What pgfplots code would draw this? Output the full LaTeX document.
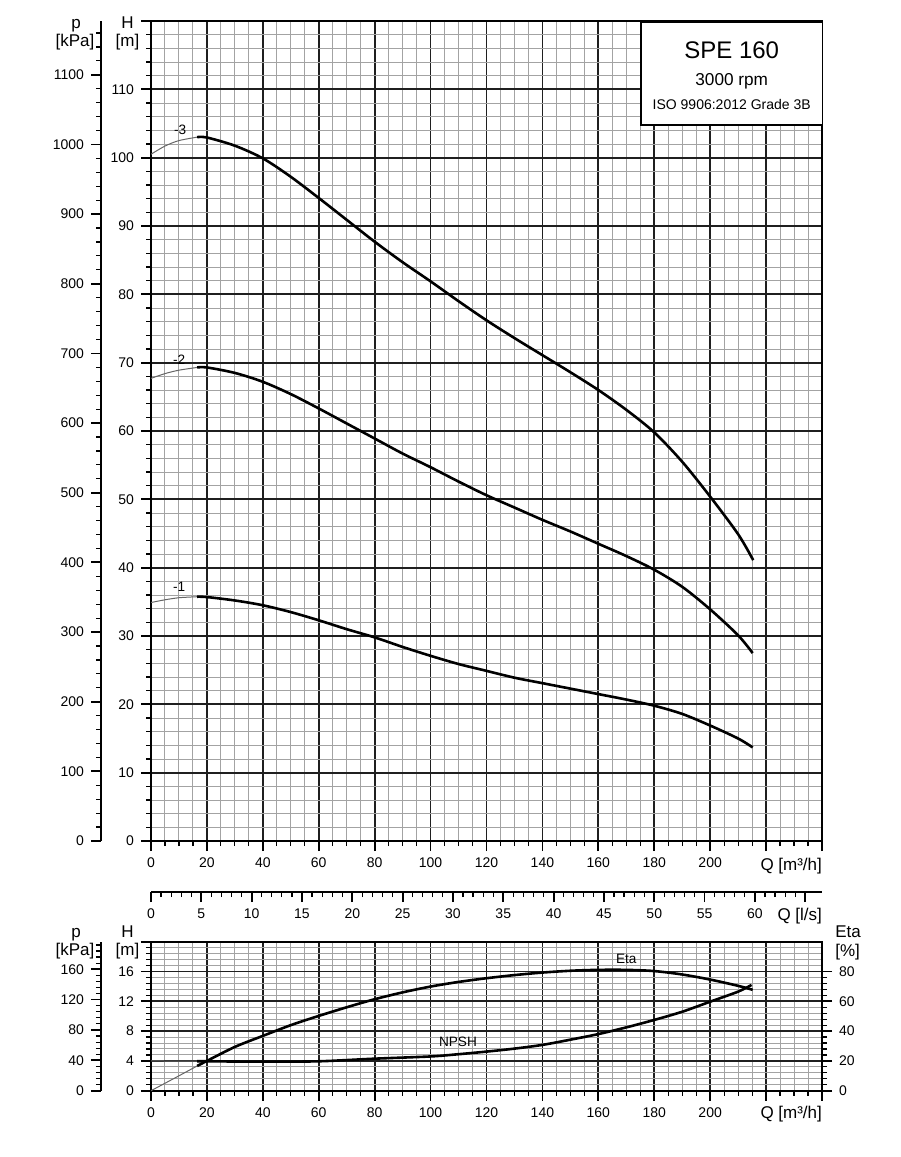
\documentclass[border=0pt]{standalone}
\usepackage{fontspec}
\setmainfont{Liberation Sans}
\usepackage{pgfplots}
\pgfplotsset{compat=1.18}

\definecolor{gridmajor}{gray}{0.12}
\definecolor{gridminor}{gray}{0.64}
\definecolor{startup}{gray}{0.4}

\newcommand{\ticksize}{\fontsize{7}{8}\selectfont}
\newcommand{\labsize}{\fontsize{8.5}{10}\selectfont}
\newcommand{\curvesize}{\fontsize{6.8}{8}\selectfont}

\pgfplotsset{
  pumpaxis/.style={
    scale only axis,
    anchor=south west,
    width=335.5pt,
    axis line style={line width=0.9pt},
    tick align=outside,
    major tick length=5pt,
    minor tick length=2.5pt,
    major tick style={line width=0.9pt, black},
    minor tick style={line width=0.6pt, black},
    tick label style={font=\ticksize},
    /pgf/number format/assume math mode=true,
    /pgf/number format/1000 sep={},
  },
  curvegrid/.style={
    grid=both,
    major grid style={gridmajor, line width=0.85pt},
    minor grid style={gridminor, line width=0.5pt},
    xmin=0, xmax=240,
    xtick={0,20,...,240},
    xticklabels={0,20,40,60,80,100,120,140,160,180,200,,},
    minor x tick num=3,
    xtick pos=left, ytick pos=left,
  },
  scaleaxis/.style={
    hide x axis,
    axis y line*=left,
    ytick align=outside,
    xmin=0, xmax=1,
  },
  dutyline/.style={black, line width=1.3pt, smooth},
  startline/.style={startup, line width=0.5pt, smooth},
}

\begin{document}
\begin{tikzpicture}
\path[use as bounding box] (0,0) rectangle (450pt,-578.5pt);

% ---------- head curves ----------
\begin{axis}[pumpaxis, curvegrid,
  at={(75.5pt,-420.5pt)}, height=410pt,
  ymin=0, ymax=120,
  ytick={0,10,...,120},
  yticklabels={0,10,20,30,40,50,60,70,80,90,100,110,},
  minor y tick num=4,
]
% 3 stages
\addplot[startline] coordinates {(0,100.5) (5,101.7) (10,102.5) (16.5,103.0)};
\addplot[dutyline] coordinates {(16.5,103.0) (20,102.95) (30,101.75) (40,99.9) (50,97.2)
  (60,94.1) (70,90.9) (80,87.7) (90,84.7) (100,81.9) (110,79.0) (120,76.2) (130,73.6)
  (140,71.1) (150,68.6) (160,66.0) (170,63.1) (180,59.8) (190,55.5) (200,50.4)
  (210,44.9) (215.4,41.1)};
% 2 stages
\addplot[startline] coordinates {(0,67.7) (5,68.4) (10,68.9) (16.5,69.3)};
\addplot[dutyline] coordinates {(16.5,69.3) (20,69.3) (30,68.5) (40,67.2) (50,65.4)
  (60,63.3) (70,61.1) (80,58.9) (90,56.7) (100,54.7) (110,52.6) (120,50.6) (130,48.8)
  (140,47.0) (150,45.3) (160,43.5) (170,41.7) (180,39.7) (190,37.2) (200,33.9)
  (210,30.1) (215.2,27.5)};
% 1 stage
\addplot[startline] coordinates {(0,34.9) (5,35.3) (10,35.6) (16.5,35.75)};
\addplot[dutyline] coordinates {(16.5,35.75) (20,35.7) (30,35.2) (40,34.5) (50,33.5)
  (60,32.3) (70,31.0) (80,29.8) (90,28.4) (100,27.1) (110,25.9) (120,24.9) (130,23.9)
  (140,23.1) (150,22.3) (160,21.5) (170,20.7) (180,19.8) (190,18.6) (200,16.9)
  (210,15.0) (215.2,13.7)};
\node[font=\curvesize] at (axis cs:10.4,104.1) {-3};
\node[font=\curvesize] at (axis cs:10.1,70.5) {-2};
\node[font=\curvesize] at (axis cs:10.1,37.2) {-1};
\end{axis}

% pressure scale, upper chart
\begin{axis}[pumpaxis, scaleaxis,
  at={(50.5pt,-420.5pt)}, height=410pt,
  ymin=0, ymax=1177.2,
  ytick={0,100,...,1100},
  minor ytick={20,40,...,1160},
]
\end{axis}

% flow in l/s
\begin{axis}[pumpaxis,
  at={(75.5pt,-446pt)}, height=1pt,
  hide y axis, axis x line*=bottom, xtick align=outside,
  xmin=0, xmax=66.6667, ymin=0, ymax=1,
  xtick={0,5,...,65},
  xticklabels={0,5,10,15,20,25,30,35,40,45,50,55,60,},
  minor x tick num=4,
]
\end{axis}

% ---------- NPSH / efficiency ----------
\begin{axis}[pumpaxis, curvegrid,
  at={(75.5pt,-545.35pt)}, height=74.5pt,
  ymin=0, ymax=20,
  ytick={0,4,...,20},
  yticklabels={0,4,8,12,16,},
  minor y tick num=4,
]
\addplot[startline] coordinates {(0,4.0) (8,3.98) (16.5,3.96)};
\addplot[dutyline] coordinates {(16.5,3.96) (20,3.95) (40,3.9) (60,3.95) (80,4.3) (100,4.6)
  (110,4.9) (120,5.25) (130,5.65) (140,6.15) (150,6.85) (160,7.6) (170,8.5) (180,9.5)
  (190,10.6) (200,11.95) (210,13.3) (214.8,14.2)};
\node[font=\curvesize] at (axis cs:109.8,6.55) {NPSH};
\end{axis}

% pressure scale, lower chart
\begin{axis}[pumpaxis, scaleaxis,
  at={(50.5pt,-545.35pt)}, height=74.5pt,
  ymin=0, ymax=196.2,
  ytick={0,40,...,160},
  minor ytick={8,16,...,192},
]
\end{axis}

% efficiency scale
\begin{axis}[pumpaxis,
  at={(75.5pt,-545.35pt)}, height=74.5pt,
  hide x axis, axis y line*=right, ytick align=outside,
  xmin=0, xmax=240, ymin=0, ymax=100,
  ytick={0,20,...,80},
  minor ytick={4,8,...,76},
]
\addplot[startline] coordinates {(0,0) (8,8) (16.5,16.6)};
\addplot[dutyline] coordinates {(16.5,16.6) (20,20) (30,29.4) (40,36.8) (50,44) (60,50.2)
  (70,56) (80,61.4) (90,66) (100,69.9) (110,73) (120,75.5) (130,77.6) (140,79.3)
  (150,80.5) (160,81.1) (170,81.1) (180,80.3) (190,78.0) (200,74.6) (210,70.4)
  (215.2,67.7)};
\node[font=\curvesize] at (axis cs:170,88.3) {Eta};
\end{axis}

% ---------- captions ----------
\draw[fill=white, line width=0.8pt] (320.35pt,-10.85pt) rectangle (411.15pt,-62.5pt);
\node[font=\fontsize{12}{14}\selectfont] at (365.85pt,-25pt) {SPE 160};
\node[font=\fontsize{8.6}{10}\selectfont] at (365.85pt,-40.85pt) {3000 rpm};
\node[font=\fontsize{7}{8}\selectfont] at (365.85pt,-52.15pt) {ISO 9906:2012 Grade 3B};

\node[font=\labsize, anchor=base] at (38pt,-14.15pt) {p};
\node[font=\labsize, anchor=base] at (37.5pt,-23pt) {[kPa]};
\node[font=\labsize, anchor=base] at (63.75pt,-14.15pt) {H};
\node[font=\labsize, anchor=base] at (63.75pt,-23pt) {[m]};

\node[font=\labsize, anchor=base] at (38pt,-468.5pt) {p};
\node[font=\labsize, anchor=base] at (37.5pt,-477.75pt) {[kPa]};
\node[font=\labsize, anchor=base] at (63.75pt,-468.5pt) {H};
\node[font=\labsize, anchor=base] at (63.75pt,-477.75pt) {[m]};

\node[font=\labsize, anchor=base west, inner sep=0pt] at (417.5pt,-468.65pt) {Eta};
\node[font=\labsize, anchor=base west, inner sep=0pt] at (417.5pt,-478pt) {[\%]};

\node[font=\labsize, anchor=base east, inner sep=0pt] at (411.15pt,-435pt) {Q [m³/h]};
\node[font=\labsize, anchor=base east, inner sep=0pt] at (411.15pt,-460pt) {Q [l/s]};
\node[font=\labsize, anchor=base east, inner sep=0pt] at (411.15pt,-559pt) {Q [m³/h]};
\end{tikzpicture}
\end{document}
